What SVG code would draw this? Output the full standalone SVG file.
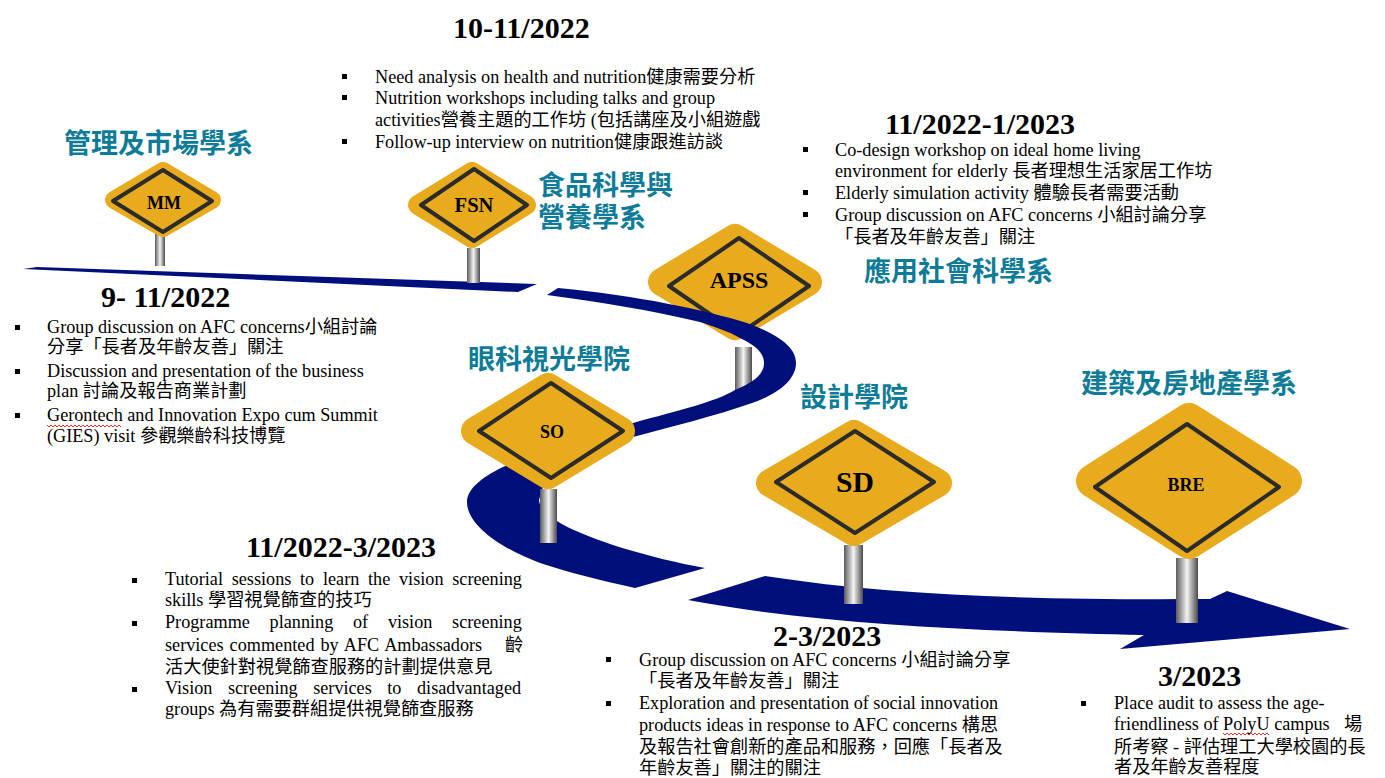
<svg xmlns="http://www.w3.org/2000/svg" width="1385" height="778" viewBox="0 0 1385 778">
<style>
text{font-family:"Liberation Serif","Noto Sans CJK TC",serif;fill:#000}
.b{font-size:18.2px}
.h{font-size:30px;font-weight:bold}
.d{font-family:"Noto Sans CJK TC","Noto Sans",sans-serif;font-size:27px;font-weight:700;fill:#0e7c98}
.l{font-weight:bold;text-anchor:middle}
.o{fill:#e8ab1e;stroke:#e8ab1e;stroke-linejoin:round}
.i{fill:none;stroke:#2b2b2b;stroke-width:4;stroke-linejoin:round}
.road{fill:#000f7c}
.pole{fill:url(#pg)}
.sq{fill:none;stroke:#e03030;stroke-width:1}
.bu{fill:#000}
</style>
<defs>
<linearGradient id="pg"><stop offset="0" stop-color="#5a5a5a"/><stop offset=".5" stop-color="#f4f4f4"/><stop offset="1" stop-color="#4a4a4a"/></linearGradient>
</defs>

<g id="sign-APSS">
<rect class="pole" x="735" y="347" width="17" height="50"/>
<polygon class="o" stroke-width="28" points="735,238 808,282 735,326 662,282"/>
<polygon class="i" points="739,238 809,286 739,334 669,286"/>
<text class="l" x="739" y="288" font-size="24">APSS</text>
</g>

<g id="connectors">
<path class="road" d="M23,269 L37,267 L537,284 L518,292 Z"/>
<path class="road" d="M547,295 L558,288 C640,296 705,310 747,323 C780,335 796,348 796,363 C796,380 778,394 752,403 C715,416 670,427 633,437 L570,450 C530,458 515,462 503,467 C480,478 467,490 467,502 C467,525 500,548 540,563 C570,573 600,580 635,588 L705,568 C650,558 590,540 560,523 C548,515 539,507 539,500 L545,480 L600,436 L633,423 C680,410 715,402 735,390 C752,383 764,375 764,363 C764,350 750,343 740,338 C728,331 712,326 700,322 C650,310 600,302 547,295 Z"/>
<path class="road" d="M688,600 L765,576 C900,597 1050,600 1210,599 L1227,591 L1350,629 L1120,649 L1144,635 C1000,632 820,625 688,600 Z"/>
</g>

<g id="sign-MM">
<rect class="pole" x="155" y="233" width="10" height="33"/>
<polygon class="o" stroke-width="18" points="163,171 212,200 163,228 114,200"/>
<polygon class="i" points="163,170 212,201 163,232 113,201"/>
<text class="l" x="164" y="209" font-size="18">MM</text>
</g>
<g id="sign-FSN">
<rect class="pole" x="467" y="248" width="13" height="35"/>
<polygon class="o" stroke-width="20" points="472,172 526,205 472,238 418,205"/>
<polygon class="i" points="474,169 527,205 474,241 421,205"/>
<text class="l" x="474" y="212" font-size="20.6">FSN</text>
</g>
<g id="sign-SO">
<rect class="pole" x="540" y="489" width="17" height="54"/>
<polygon class="o" stroke-width="28" points="548,387 621,431 548,475 475,431"/>
<polygon class="i" points="551,383 623,431 551,478 479,431"/>
<text class="l" x="552" y="438" font-size="18">SO</text>
</g>
<g id="sign-SD">
<rect class="pole" x="844" y="545" width="19" height="59"/>
<polygon class="o" stroke-width="28" points="854,434 938,483 854,532 770,483"/>
<polygon class="i" points="855,431 934,482 855,533 776,482"/>
<text class="l" x="855" y="492" font-size="29.7" textLength="38" lengthAdjust="spacingAndGlyphs">SD</text>
</g>
<g id="sign-BRE">
<rect class="pole" x="1176" y="558" width="22" height="65"/>
<polygon class="o" stroke-width="34" points="1189,420 1285,481 1189,542 1093,481"/>
<polygon class="i" stroke-width="5" points="1187,424 1279,487 1187,551 1095,487"/>
<text class="l" x="1186" y="491" font-size="18">BRE</text>
</g>

<g id="labels">
<text class="d" x="64" y="153">管理及市場學系</text>
<text class="d" x="538" y="195">食品科學與</text>
<text class="d" x="538" y="227">營養學系</text>
<text class="d" x="864" y="281">應用社會科學系</text>
<text class="d" x="468" y="369">眼科視光學院</text>
<text class="d" x="800" y="407">設計學院</text>
<text class="d" x="1081" y="393">建築及房地產學系</text>
</g>

<g id="block-mm">
<text class="h" x="101" y="307">9- 11/2022</text>
<rect class="bu" x="15" y="325" width="5" height="5"/><rect class="bu" x="15" y="369" width="5" height="5"/><rect class="bu" x="15" y="413" width="5" height="5"/>
<text class="b" x="47" y="333">Group discussion on AFC concerns小組討論</text>
<text class="b" x="47" y="353">分享「長者及年齡友善」關注</text>
<text class="b" x="47" y="377">Discussion and presentation of the business</text>
<text class="b" x="47" y="397">plan 討論及報告商業計劃</text>
<text class="b" x="47" y="421">Gerontech and Innovation Expo cum Summit</text>
<text class="b" x="47" y="442">(GIES) visit 參觀樂齡科技博覽</text>
<path class="sq" d="M47,425 l2,2 l2,-2 l2,2 l2,-2 l2,2 l2,-2 l2,2 l2,-2 l2,2 l2,-2 l2,2 l2,-2 l2,2 l2,-2 l2,2 l2,-2 l2,2 l2,-2 l2,2 l2,-2 l2,2 l2,-2 l2,2 l2,-2 l2,2 l2,-2 l2,2 l2,-2 l2,2 l2,-2 l2,2 l2,-2 l2,2 l2,-2 l2,2 l2,-2 l2,2"/>
</g>
<g id="block-fsn">
<text class="h" x="453" y="38">10-11/2022</text>
<rect class="bu" x="342" y="74" width="5" height="5"/><rect class="bu" x="342" y="95" width="5" height="5"/><rect class="bu" x="342" y="139" width="5" height="5"/>
<text class="b" x="375" y="83">Need analysis on health and nutrition健康需要分析</text>
<text class="b" x="375" y="104">Nutrition workshops including talks and group</text>
<text class="b" x="375" y="126">activities營養主題的工作坊 (包括講座及小組遊戲</text>
<text class="b" x="375" y="148">Follow-up interview on nutrition健康跟進訪談</text>
</g>
<g id="block-apss">
<text class="h" x="885" y="134">11/2022-1/2023</text>
<rect class="bu" x="803" y="147" width="5" height="5"/><rect class="bu" x="803" y="190" width="5" height="5"/><rect class="bu" x="803" y="212" width="5" height="5"/>
<text class="b" x="835" y="156">Co-design workshop on ideal home living</text>
<text class="b" x="835" y="177">environment for elderly 長者理想生活家居工作坊</text>
<text class="b" x="835" y="199">Elderly simulation activity 體驗長者需要活動</text>
<text class="b" x="835" y="221">Group discussion on AFC concerns 小組討論分享</text>
<text class="b" x="835" y="243">「長者及年齡友善」關注</text>
</g>
<g id="block-so">
<text class="h" x="246" y="557">11/2022-3/2023</text>
<rect class="bu" x="132" y="578" width="5" height="5"/><rect class="bu" x="132" y="621" width="5" height="5"/><rect class="bu" x="132" y="687" width="5" height="5"/>
<text class="b" x="165" y="585" word-spacing="4.2">Tutorial sessions to learn the vision screening</text>
<text class="b" x="165" y="606">skills 學習視覺篩查的技巧</text>
<text class="b" x="165" y="628" word-spacing="15.2">Programme planning of vision screening</text>
<text class="b" x="165" y="651" word-spacing="1.5">services commented by AFC Ambassadors<tspan x="505">齡</tspan></text>
<text class="b" x="165" y="673">活大使針對視覺篩查服務的計劃提供意見</text>
<text class="b" x="165" y="694" word-spacing="11">Vision screening services to disadvantaged</text>
<text class="b" x="165" y="715">groups 為有需要群組提供視覺篩查服務</text>
</g>
<g id="block-sd">
<text class="h" x="773" y="646">2-3/2023</text>
<rect class="bu" x="606" y="657" width="5" height="5"/><rect class="bu" x="606" y="701" width="5" height="5"/>
<text class="b" x="639" y="666">Group discussion on AFC concerns 小組討論分享</text>
<text class="b" x="639" y="687">「長者及年齡友善」關注</text>
<text class="b" x="639" y="709">Exploration and presentation of social innovation</text>
<text class="b" x="639" y="731">products ideas in response to AFC concerns 構思</text>
<text class="b" x="639" y="753">及報告社會創新的產品和服務，回應「長者及</text>
<text class="b" x="639" y="774">年齡友善」關注的關注</text>
</g>
<g id="block-bre">
<text class="h" x="1158" y="686">3/2023</text>
<rect class="bu" x="1081" y="701" width="5" height="5"/>
<text class="b" x="1114" y="709">Place audit to assess the age-</text>
<text class="b" x="1114" y="730">friendliness of PolyU campus<tspan x="1344">場</tspan></text>
<text class="b" x="1114" y="753">所考察 - 評估理工大學校園的長</text>
<text class="b" x="1114" y="773">者及年齡友善程度</text>
<path class="sq" d="M1223,733 l2,2 l2,-2 l2,2 l2,-2 l2,2 l2,-2 l2,2 l2,-2 l2,2 l2,-2 l2,2 l2,-2 l2,2 l2,-2 l2,2 l2,-2 l2,2 l2,-2 l2,2 l2,-2 l2,2 l2,-2 l2,2"/>
</g>
</svg>
